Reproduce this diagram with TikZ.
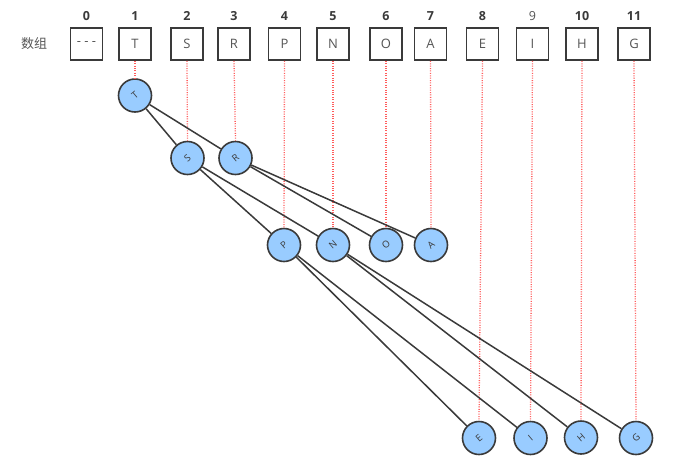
\documentclass[tikz,border=0pt]{standalone}
\usepackage{fontspec}
\usepackage{graphicx}
\setmainfont{Open Sans}
\newfontfamily\cjk{Noto Sans CJK SC}
\definecolor{nodeblue}{HTML}{99CCFF}
\definecolor{edgec}{HTML}{3A3A3A}
\definecolor{dotred}{HTML}{FF5C5C}
\definecolor{txtc}{HTML}{555555}
\tikzset{
  arrbox/.style={draw=edgec, line width=1.7pt, minimum size=32pt, inner sep=0pt, fill=white,
    text=txtc, font=\fontsize{13}{15}\selectfont},
  idx/.style={text=edgec, font=\bfseries\fontsize{12.5}{14}\selectfont, inner sep=0pt},
  idxlight/.style={text=txtc, font=\fontsize{12.5}{14}\selectfont, inner sep=0pt},
  tnode/.style={circle, draw=edgec, fill=nodeblue, line width=1.6pt, minimum size=33pt, inner sep=0pt,
    text=edgec, font=\fontsize{9.5}{11}\selectfont},
  guide/.style={draw=dotred, line width=1.3pt, dash pattern=on 1pt off 1.4pt},
  edge/.style={draw=edgec, line width=1.5pt}
}
\newcommand{\rl}[1]{\rotatebox{40}{#1}}
\begin{document}
\begin{tikzpicture}[x=1pt,y=-1pt]
\useasboundingbox (0,0) rectangle (678,467);
% label
\node[text=txtc, font=\cjk\fontsize{13}{15}\selectfont] (lab) at (34,44) {数组};
% array boxes
\node[arrbox] (b0) at (86.5,44) {- - -};
\node[arrbox] (b1) at (135,44) {T};
\node[arrbox] (b2) at (187,44) {S};
\node[arrbox] (b3) at (234,44) {R};
\node[arrbox] (b4) at (284.5,44) {P};
\node[arrbox] (b5) at (333,44) {N};
\node[arrbox] (b6) at (386,44) {O};
\node[arrbox] (b7) at (430.5,44) {A};
\node[arrbox] (b8) at (482.5,44) {E};
\node[arrbox] (b9) at (532.5,44) {I};
\node[arrbox] (b10) at (582,44) {H};
\node[arrbox] (b11) at (634,44) {G};
% indices
\node[idx] (i0) at (86.5,16) {0};
\node[idx] (i1) at (135,16) {1};
\node[idx] (i2) at (187,16) {2};
\node[idx] (i3) at (234,16) {3};
\node[idx] (i4) at (284.5,16) {4};
\node[idx] (i5) at (333,16) {5};
\node[idx] (i6) at (386,16) {6};
\node[idx] (i7) at (430.5,16) {7};
\node[idx] (i8) at (482.5,16) {8};
\node[idxlight] (i9) at (532.5,16) {9};
\node[idx] (i10) at (582,16) {10};
\node[idx] (i11) at (634,16) {11};
% tree nodes
\node[tnode] (T) at (135,95.5) {\rl{T}};
\node[tnode] (S) at (187.5,158) {\rl{S}};
\node[tnode] (R) at (235.5,158) {\rl{R}};
\node[tnode] (P) at (284,245) {\rl{P}};
\node[tnode] (N) at (333,245) {\rl{N}};
\node[tnode] (O) at (386,245) {\rl{O}};
\node[tnode] (A) at (431,245) {\rl{A}};
\node[tnode] (E) at (479,438) {\rl{E}};
\node[tnode] (I) at (530.5,438) {\rl{I}};
\node[tnode] (H) at (581,437.5) {\rl{H}};
\node[tnode] (G) at (636,438) {\rl{G}};
% guides
\draw[guide] (b1.south) -- (T.north);
\draw[guide] (b2.south) -- (S.north);
\draw[guide] (b3.south) -- (R.north);
\draw[guide] (b4.south) -- (P.north);
\draw[guide] (b5.south) -- (N.north);
\draw[guide] (b6.south) -- (O.north);
\draw[guide] (b7.south) -- (A.north);
\draw[guide] (b8.south) -- (E.north);
\draw[guide] (b9.south) -- (I.north);
\draw[guide] (b10.south) -- (H.north);
\draw[guide] (b11.south) -- (G.north);
% edges
\draw[edge] (T) -- (S);
\draw[edge] (T) -- (R);
\draw[edge] (S) -- (P);
\draw[edge] (S) -- (N);
\draw[edge] (R) -- (O);
\draw[edge] (R) -- (A);
\draw[edge] (P) -- (E);
\draw[edge] (P) -- (I);
\draw[edge] (N) -- (H);
\draw[edge] (N) -- (G);
\end{tikzpicture}
\end{document}
